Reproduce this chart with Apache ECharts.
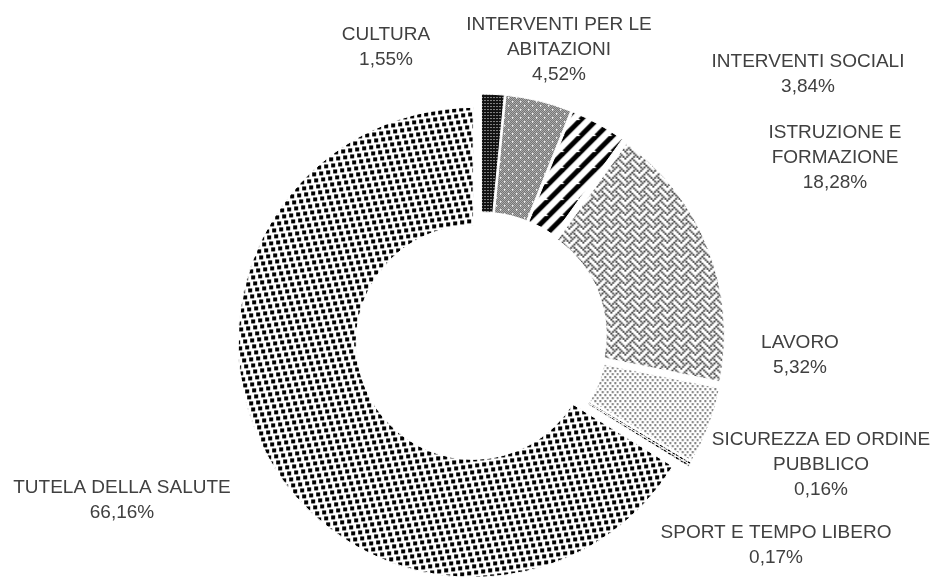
<!DOCTYPE html>
<html>
<head>
<meta charset="utf-8">
<script src="https://cdn.jsdelivr.net/npm/echarts@6/dist/echarts.min.js"></script>
<style>
html, body { margin: 0; padding: 0; background: #fff; }
#chart { width: 939px; height: 577px; }
</style>
</head>
<body>
<div id="chart"></div>
<script>
// settori di spesa (%)
var categories = ['CULTURA', 'INTERVENTI PER LE\nABITAZIONI', 'INTERVENTI SOCIALI', 'ISTRUZIONE E\nFORMAZIONE',
	'LAVORO', 'SICUREZZA ED ORDINE\nPUBBLICO', 'SPORT E TEMPO LIBERO', 'TUTELA DELLA SALUTE'];
var values = [1.55, 4.52, 3.84, 18.28, 5.32, 0.16, 0.17, 66.16];

// centro delle etichette
var labelPos = [[386, 47], [559, 50], [808, 74], [835, 158], [800, 355], [821, 465], [776, 545], [122, 500]];

function tile(w, h, draw) {
	var c = document.createElement('canvas');
	c.width = w;
	c.height = h;
	var ctx = c.getContext('2d');
	ctx.fillStyle = '#fff';
	ctx.fillRect(0, 0, w, h);
	draw(ctx, w, h);
	return { image: c, repeat: 'repeat' };
}

// punti su reticolo inclinato, ripetuti sul bordo
function lattice(ctx, size, a, b, dot, color) {
	ctx.fillStyle = color;
	for (var i = -20; i < 20; i++) {
		for (var j = -20; j < 20; j++) {
			var x = ((i * a[0] + j * b[0]) % size + size) % size;
			var y = ((i * a[1] + j * b[1]) % size + size) % size;
			[0, -size].forEach(function (dx) {
				[0, -size].forEach(function (dy) {
					ctx.fillRect(x + dx, y + dy, dot, dot);
				});
			});
		}
	}
}

// trama a bit 8x8
function bits(rows, scale, color) {
	var s = 8 * scale;
	return tile(s, s, function (ctx) {
		ctx.fillStyle = color;
		rows.forEach(function (r, y) {
			for (var x = 0; x < 8; x++) {
				if (r & (0x80 >> x)) ctx.fillRect(x * scale, y * scale, scale, scale);
			}
		});
	});
}

var pCultura = tile(3, 3, function (ctx) {
	ctx.fillStyle = '#111';
	ctx.fillRect(0, 0, 3, 3);
	ctx.fillStyle = '#fff';
	ctx.fillRect(1, 1, 1, 1);
});

var pAbitazioni = tile(8, 8, function (ctx) {
	ctx.fillStyle = '#222';
	for (var y = 0; y < 8; y++)
		for (var x = 0; x < 8; x++)
			if ((x + y) % 2 === 0) ctx.fillRect(x, y, 1, 1);
	ctx.fillStyle = '#fff';
	[[2, 2], [6, 6]].forEach(function (p) {
		ctx.fillRect(p[0] - 1, p[1], 3, 1);
		ctx.fillRect(p[0], p[1] - 1, 1, 3);
	});
});

var pSociali = tile(16, 16, function (ctx) {
	ctx.strokeStyle = '#000';
	ctx.lineWidth = 5;
	for (var k = -1; k <= 2; k++) {
		ctx.beginPath();
		ctx.moveTo(k * 16 - 16, 16);
		ctx.lineTo(k * 16 + 16, -16);
		ctx.stroke();
	}
});

var pIstruzione = bits([0x88, 0x54, 0x22, 0x45, 0x88, 0x14, 0x22, 0x51], 1.75, '#222');

var pLavoro = tile(10, 6, function (ctx) {
	ctx.fillStyle = '#444';
	[[1, 1], [6, 1], [3.5, 4], [8.5, 4]].forEach(function (p) {
		ctx.fillRect(p[0], p[1], 1.7, 1.7);
	});
});

var pDark = tile(4, 4, function (ctx) {
	ctx.fillStyle = '#000';
	ctx.fillRect(0, 0, 3, 3);
});

var pTutela = tile(44, 44, function (ctx) {
	lattice(ctx, 44, [7, -1], [2, 6], 3.2, '#000');
});

var patterns = [pCultura, pAbitazioni, pSociali, pIstruzione, pLavoro, pDark, pDark, pTutela];

var pieData = categories.map(function (name, i) {
	return { name: name, value: values[i] };
});

var chart = echarts.init(document.getElementById('chart'));
chart.setOption({
	animation: false,
	backgroundColor: '#fff',
	series: [{
		// fette con trama, tutte esplose
		type: 'pie',
		center: [481, 338],
		radius: [117, 235],
		startAngle: 90,
		clockwise: true,
		selectedMode: 'multiple',
		selectedOffset: 9,
		silent: true,
		itemStyle: { borderColor: '#fff', borderWidth: 1 },
		label: { show: false },
		labelLine: { show: false },
		data: pieData.map(function (d, i) {
			return { name: d.name, value: d.value, selected: true, itemStyle: { color: patterns[i] } };
		})
	}, {
		// solo etichette
		type: 'pie',
		center: [481, 338],
		radius: [117, 235],
		startAngle: 90,
		clockwise: true,
		silent: true,
		avoidLabelOverlap: false,
		itemStyle: { color: 'rgba(0,0,0,0)', borderWidth: 0 },
		label: {
			show: true,
			position: 'outside',
			color: '#404040',
			fontFamily: 'Liberation Sans',
			fontSize: 19,
			lineHeight: 25,
			align: 'center',
			formatter: function (p) {
				return p.name + '\n' + p.value.toFixed(2).replace('.', ',') + '%';
			}
		},
		labelLine: { show: false },
		labelLayout: function (p) {
			var pos = labelPos[p.dataIndex];
			return { x: pos[0], y: pos[1], align: 'center', verticalAlign: 'middle' };
		},
		data: pieData
	}]
});
</script>
</body>
</html>
